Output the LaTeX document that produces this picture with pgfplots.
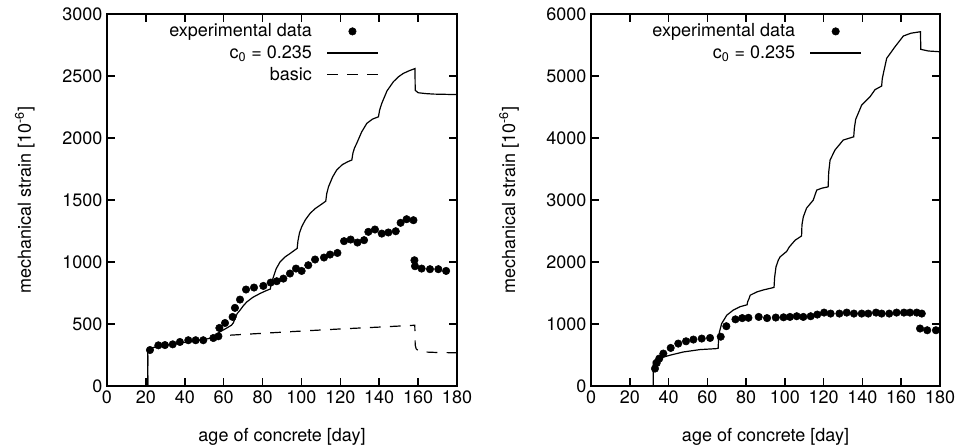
\documentclass[border=0pt]{standalone}
\usepackage{fontspec}
\setmainfont{TeX Gyre Heros}
\usepackage{pgfplots}
\pgfplotsset{compat=1.18}
\begin{document}
\begin{tikzpicture}
\useasboundingbox (0,0) rectangle (724.5pt,336pt);
\pgfplotsset{
  myaxis/.style={
    scale only axis,
    height=279pt,
    xmin=0, xmax=180,
    ymin=0,
    xtick={0,20,...,180},
    axis line style={line width=1.4pt},
    every tick/.style={black, line width=1.2pt},
    major tick length=6pt,
    tick align=inside,
    font=\fontsize{13.5}{16}\selectfont,
    tick label style={font=\fontsize{13.5}{16}\selectfont},
    /pgf/number format/assume math mode=true,
    /pgf/number format/1000 sep={},
    xlabel={age of concrete [day]},
    ylabel={mechanical strain [10\textsuperscript{-6}]},
    xlabel style={at={(axis description cs:0.5,-0.137)}, anchor=center},
    ylabel style={at={(axis description cs:-0.235,0.5)}, anchor=center},
    legend style={draw=none, fill=none, at={(0.78,0.985)}, anchor=north east,
      font=\fontsize{13.5}{16}\selectfont, row sep=1pt, inner sep=1pt,
      /tikz/every odd column/.append style={column sep=9pt}},
    legend cell align=right,
    legend plot pos=right,
    legend image code/.code={\draw[mark repeat=2,mark phase=2,##1] plot coordinates {(0pt,0pt) (19pt,0pt) (38pt,0pt)};},
  }
}
% ---------------- left ----------------
\begin{axis}[myaxis, at={(80.25pt,46.5pt)}, anchor=south west, width=262.5pt,
  ymax=3000, ytick={0,500,...,3000}]
\addplot[only marks, mark=*, mark size=2.8pt, black] coordinates {
(22.1,290)(26.4,328)(29.8,330)(33.8,336)(37.5,355)(41.8,369)(45.6,369)(49.5,369)
(54.7,387)(57.3,401)(57.8,468)(60.7,508)(64.6,557)(65.8,630)(68.4,697)(71.5,778)
(75.6,794)(80.4,807)(84.2,834)(87.3,845)(90.7,866)(94.1,907)(97.2,947)(100.1,928)
(103.5,974)(107,1020)(111.6,1036)(114.7,1060)(118.5,1073)(121.9,1168)(125.3,1181)
(128.8,1157)(132.2,1176)(134.4,1243)(137.8,1262)(141.3,1229)(144.7,1238)(148.5,1248)
(151,1316)(154.1,1345)(157.6,1337)(158.1,1014)(158.4,966)(161.8,947)(166.1,942)
(170.4,942)(174.4,928)
};
\addlegendentry{experimental data}
\addplot[black, line width=0.9pt] coordinates {
(21,0)(21,290)(23,305)(26,320)(30,332)(35,342)(40,352)(45,362)(50,375)(54,388)(56,398)
(57,420)(58,436)(61,462)(64,490)(65,510)(66,550)(67,585)(68.4,611)(70,645)(71.9,678)
(75,715)(78.7,746)(82,770)(84,782)(84.5,830)(85.6,880)(87,945)(89,1001)(91.5,1040)
(94.1,1068)(97.8,1110)(98.2,1170)(99,1235)(100.1,1283)(102,1340)(104.4,1391)(107,1430)
(109.6,1458)(112.5,1490)(113,1550)(113.9,1606)(116,1685)(118.1,1741)(121,1785)(124,1810)
(125.9,1822)(126.5,1880)(127.3,1920)(128.4,1956)(131,2050)(133.6,2118)(136.5,2152)
(139.6,2171)(140.2,2225)(141.3,2279)(144,2380)(147.3,2454)(150,2495)(152.4,2521)
(155.5,2543)(158.4,2560)(158.5,2385)(160,2365)(164,2358)(168,2354)(180,2350)
};
\addlegendentry{c\textsubscript{0} = 0.235}
\addplot[black, line width=0.9pt, dash pattern=on 8pt off 7pt] coordinates {
(21,0)(21,290)(23,305)(26,320)(30,332)(35,342)(40,352)(45,362)(50,375)(54,388)(56,398)
(58,405)(80,425)(100,443)(120,460)(140,475)(158.3,490)(158.5,330)(159,300)(160,285)
(162,275)(170,270)(180,268)
};
\addlegendentry{basic}
\end{axis}
% ---------------- right ----------------
\begin{axis}[myaxis, at={(443.25pt,46.5pt)}, anchor=south west, width=261.75pt,
  ymax=6000, ytick={0,1000,...,6000}]
\addplot[only marks, mark=*, mark size=2.8pt, black] coordinates {
(33,281)(33.9,372)(35.2,442)(37.3,523)(41.1,614)(45.0,684)(49.0,721)(52.8,749)
(57.1,765)(61.4,775)(66.9,795)(69.8,964)(74.5,1075)(78,1095)(81.2,1100)(86.5,1114)
(90.8,1095)(95.3,1104)(99.3,1108)(102.6,1114)(106.1,1125)(109.5,1114)(113.3,1125)
(116.7,1152)(120.2,1184)(123.6,1168)(128.1,1168)(131.9,1184)(135.6,1168)(139.6,1168)
(143,1168)(147,1184)(149.9,1168)(153.8,1168)(157.6,1184)(161.4,1184)(164.5,1184)
(168,1184)(170.6,1168)(169.7,927)(173.4,899)(177.9,899)
};
\addlegendentry{experimental data}
\addplot[black, line width=0.9pt] coordinates {
(32.1,0)(32.1,390)(33,420)(35.6,450)(40.7,496)(47.6,549)(56.2,587)(64.8,603)(65.6,610)
(65.8,780)(66.3,880)(67.4,1007)(70,1141)(73.4,1225)(77,1280)(80.5,1310)(80.8,1360)
(81.5,1410)(82.1,1464)(85.5,1517)(89,1550)(94.4,1590)(94.7,1750)(95.4,1921)(96.6,2029)
(97.5,2082)(100.9,2170)(102.3,2244)(105.3,2352)(108.6,2420)(108.8,2600)(109.5,2728)
(111.2,2870)(114.6,2997)(116.4,3159)(119,3190)(122.3,3212)(122.6,3450)(123.3,3643)
(125.8,3805)(130.1,3967)(135.5,4019)(135.8,4150)(136.5,4300)(139.6,4531)(143.9,4665)
(146.5,4780)(149.9,4838)(150.2,4950)(150.8,5043)(152.5,5285)(156.8,5472)(161.1,5645)
(165,5690)(169.9,5714)(170.1,5430)(174,5403)(180,5391)
};
\addlegendentry{c\textsubscript{0} = 0.235}
\end{axis}
\end{tikzpicture}
\end{document}
